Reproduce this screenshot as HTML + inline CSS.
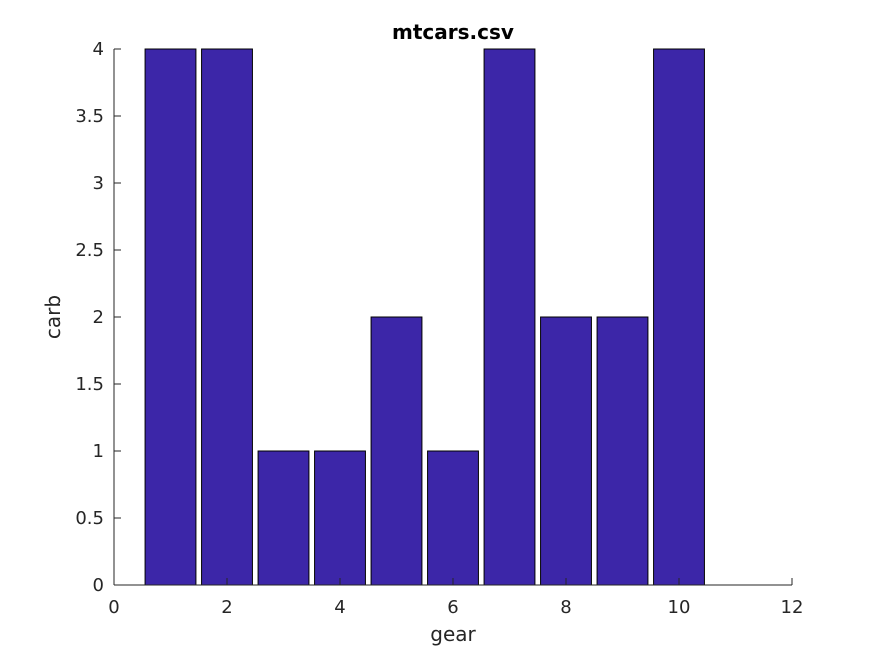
<!DOCTYPE html>
<html><head><meta charset="utf-8"><style>
body{margin:0;background:#fff;}
svg text{font-family:"DejaVu Sans","Liberation Sans",sans-serif;fill:#262626;}
</style></head><body>
<svg id="chart" width="875" height="656">
<text x="453" y="39" text-anchor="middle" font-size="20" font-weight="bold" style="fill:#000">mtcars.csv</text>
<g id="bars"></g>
<g id="axes"></g>
<text x="453" y="641" text-anchor="middle" font-size="20">gear</text>
<text transform="translate(60,317) rotate(-90)" text-anchor="middle" font-size="20">carb</text>
</svg>
<script>
const categories=[1,2,3,4,5,6,7,8,9,10];
const values=[4,4,1,1,2,1,4,2,2,4];
const xTicks=[0,2,4,6,8,10,12];
const yTicks=[0,0.5,1,1.5,2,2.5,3,3.5,4];
const X0=114,X1=792,Y0=585,Y1=49;
const sx=v=>X0+(v-0)/(12-0)*(X1-X0);
const sy=v=>Y0-(v-0)/(4-0)*(Y0-Y1);
const ns="http://www.w3.org/2000/svg";
const bars=document.getElementById('bars'),axes=document.getElementById('axes');
function mk(t,a,p){const e=document.createElementNS(ns,t);for(const k in a)e.setAttribute(k,a[k]);p.appendChild(e);return e;}
categories.forEach((c,i)=>{
 const r=mk('rect',{x:sx(c-0.45),y:sy(values[i]),width:sx(c+0.45)-sx(c-0.45),height:sy(0)-sy(values[i]),fill:'#3c26a8',stroke:'#000','stroke-width':1},bars);
 
 
});
const xl=mk('line',{x1:X0,y1:Y0,x2:X1,y2:Y0,stroke:'#262626'},axes);


const yl=mk('line',{x1:X0,y1:Y0,x2:X0,y2:Y1,stroke:'#262626'},axes);


xTicks.forEach(t=>{
 mk('line',{x1:sx(t),y1:Y0,x2:sx(t),y2:Y0-7,stroke:'#262626'},axes);
 const tx=mk('text',{x:sx(t),y:Y0+28,'text-anchor':'middle','font-size':18},axes);
 tx.textContent=t;
 
 
});
yTicks.forEach(t=>{
 mk('line',{x1:X0,y1:sy(t),x2:X0+7,y2:sy(t),stroke:'#262626'},axes);
 const tx=mk('text',{x:X0-10,y:sy(t)+6,'text-anchor':'end','font-size':18},axes);
 tx.textContent=t;
 
 
});
</script>
</body></html>
